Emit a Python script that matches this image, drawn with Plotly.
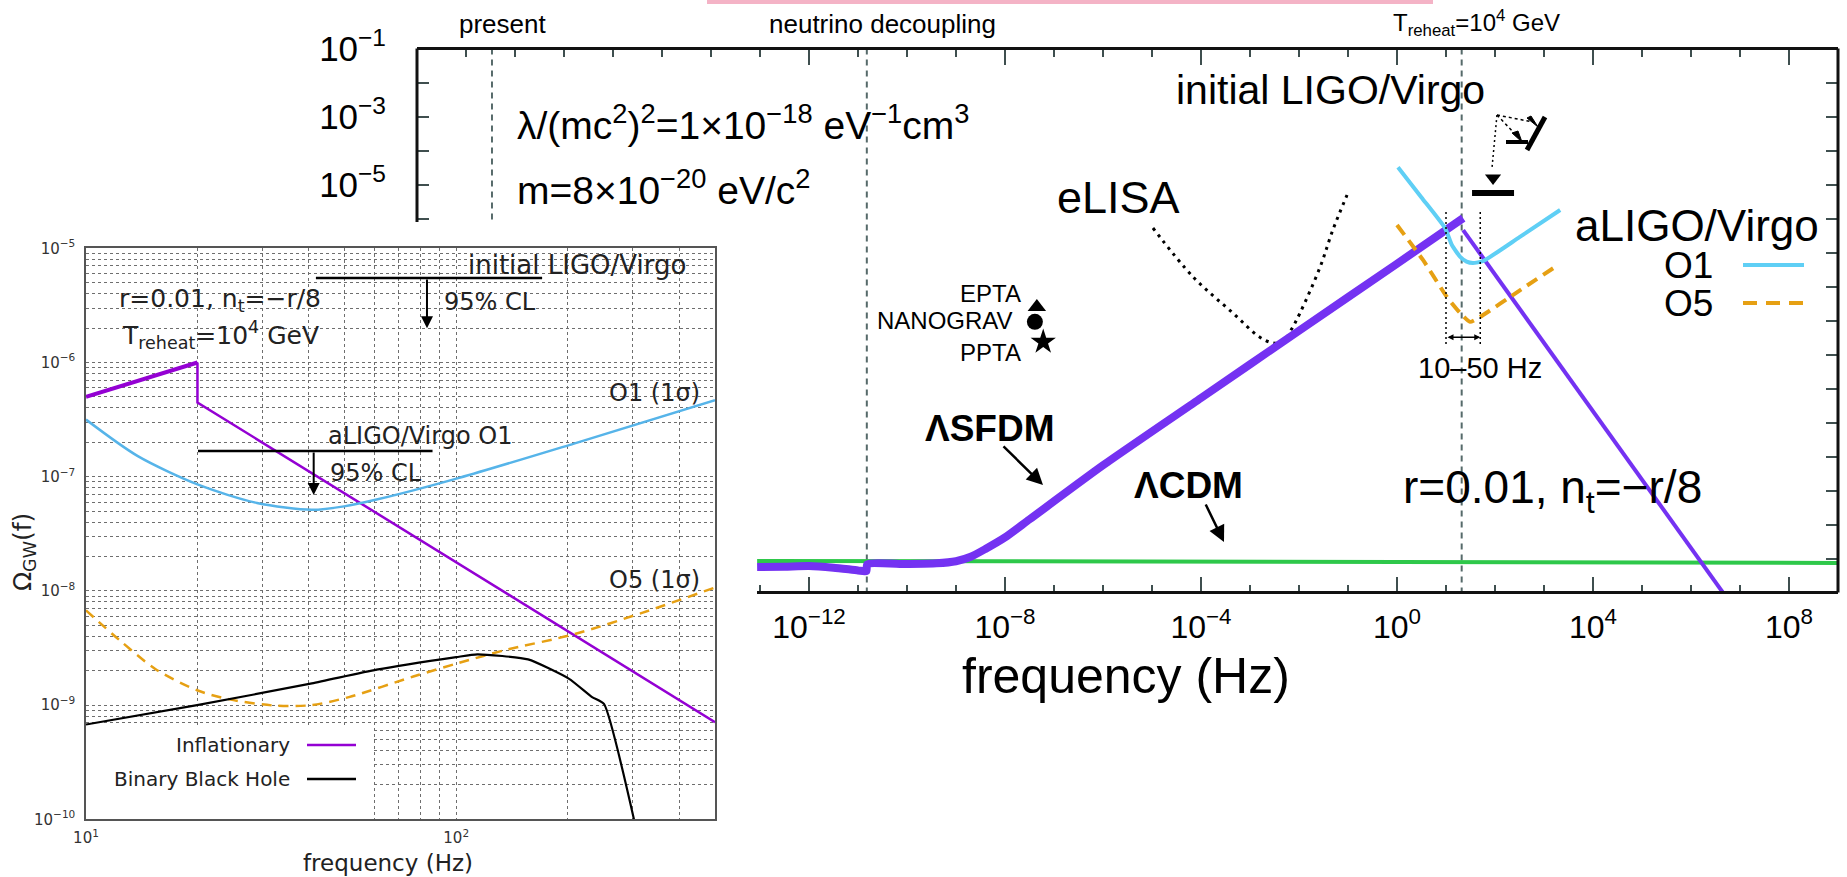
import numpy as np
import plotly.graph_objects as go

W, H = 1847, 877

# ---------------- main panel (values are log10 of f [Hz] and of Omega_GW) ----------------
lcdm_logf = [-13.06, -4.0, 9.0]
lcdm_logomega = [-16.07, -16.10, -16.13]

sfdm_logf = [-13.06, -12.5, -12.0, -11.5, -11.0, -10.83, -10.81, -10.0, -9.4, -9.0,
             -8.7, -8.4, -8.0, -7.5, -6.0, -4.0, -2.0, 0.0, 1.35]
sfdm_logomega = [-16.25, -16.24, -16.22, -16.27, -16.35, -16.37, -16.17, -16.16, -16.14, -16.08,
                 -15.95, -15.72, -15.38, -14.85, -13.26, -11.28, -9.30, -7.33, -5.99]

sfdm_tail_logf = [1.35, 6.75]
sfdm_tail_logomega = [-6.34, -17.2]

elisa_logf = [-4.98, -4.16, -3.35, -2.80, -2.53, -2.33, -2.15, -1.98, -1.57, -1.31, -1.02]
elisa_logomega = [-6.28, -7.72, -8.78, -9.49, -9.66, -9.63, -9.25, -8.78, -7.43, -6.34, -5.31]

o1_logf = [0.02, 0.5, 0.98, 1.12, 1.29, 1.42, 1.55, 1.76, 2.5, 3.33]
o1_logomega = [-4.49, -5.38, -6.28, -6.78, -7.13, -7.27, -7.31, -7.25, -6.55, -5.75]

o5_logf = [0.0, 0.53, 1.02, 1.29, 1.49, 1.69, 2.5, 3.22]
o5_logomega = [-6.19, -7.22, -8.31, -8.78, -9.04, -8.90, -8.12, -7.43]

pta_names = ["EPTA", "NANOGRAV", "PPTA"]
pta_logf = [-7.35, -7.39, -7.22]
pta_logomega = [-8.60, -9.04, -9.63]
pta_symbols = ["triangle-up", "circle", "star"]

event_labels = ["present", "neutrino decoupling", "T<sub>reheat</sub>=10<sup>4</sup> GeV"]
event_logf = [-18.47, -10.82, 1.32]

band_logf = [1.0, 1.699]            # 10-50 Hz
band_logomega = [-5.81, -9.78]
band_arrow_logomega = -9.49

ligo_limit_logf = 1.96
ligo_limit_logomega = -5.25
ligo_head_logomega = -4.81
ligo_leader_logf = [2.04, 1.94]
ligo_leader_logomega = [-2.96, -4.49]

main_xtick_exp = [-12, -8, -4, 0, 4, 8]
main_ytick_exp = [-1, -3, -5]

# ---------------- inset (values are log10 of f [Hz] and of Omega_GW) ----------------
infl_rise_logf = [1.0, 1.30103]
infl_rise_logomega = [-6.30, -6.0]
infl_fall_logf = [1.30103, 1.30103, 2.69897]
infl_fall_logomega = [-6.0, -6.35, -9.15]

in_o1_logf = [1.0, 1.14, 1.303, 1.462, 1.61, 1.697, 1.785, 2.008, 2.318, 2.699]
in_o1_logomega = [-6.50, -6.82, -7.07, -7.23, -7.29, -7.26, -7.20, -7.01, -6.71, -6.33]

in_o5_logf = [1.0, 1.09, 1.19, 1.30, 1.388, 1.512, 1.61, 1.71, 1.884, 2.008, 2.13, 2.318, 2.504, 2.699]
in_o5_logomega = [-8.17, -8.43, -8.69, -8.87, -8.95, -9.005, -9.0, -8.93, -8.75, -8.63, -8.52, -8.38, -8.19, -7.97]

bbh_logf = [1.0, 1.30, 1.61, 1.785, 2.0, 2.057, 2.194, 2.305, 2.367, 2.399, 2.487]
bbh_logomega = [-9.17, -9.0, -8.81, -8.69, -8.58, -8.555, -8.60, -8.77, -8.93, -8.99, -10.1]

ilv_limit_logf = [1.621, 2.232]
ilv_limit_logomega = -5.26
ilv_arrow_logf = 1.921
ilv_arrow_tip = -5.70

o1_limit_logf = [1.3025, 1.936]
o1_limit_logomega = -6.775
o1_arrow_logf = 1.615
o1_arrow_tip = -7.16

inset_xtick_exp = [1, 2]
inset_ytick_exp = [-10, -9, -8, -7, -6, -5]

# key box of the inset (log10 corners)
key_box_logf = [1.0, 1.773]
key_box_logomega = [-10.0, -9.19]


def lin(v):
    return [10.0 ** x for x in v]


def px(x):
    return x / W


def py(y):
    return 1 - y / H


SANS = "Liberation Sans, Arial, sans-serif"
DJV = "DejaVu Sans, Verdana, sans-serif"
PURPLE = "#7432f2"
CYAN = "#5fcff5"
ORANGE = "#e6a013"
GREEN = "#2ec84a"
SLATE = "#566a6a"
GRID = "#6e6e6e"

fig = go.Figure()

# event markers (vertical dashed lines)
for f in event_logf:
    fig.add_trace(go.Scatter(x=lin([f, f]), y=[1e-1, 1e-17], mode="lines",
                             line=dict(color=SLATE, width=2, dash="6px,5px"),
                             xaxis="x", yaxis="y", hoverinfo="skip"))

fig.add_trace(go.Scatter(x=lin(lcdm_logf), y=lin(lcdm_logomega), mode="lines",
                         line=dict(color=GREEN, width=4), xaxis="x", yaxis="y"))
fig.add_trace(go.Scatter(x=lin(elisa_logf), y=lin(elisa_logomega), mode="lines",
                         line=dict(color="black", width=3, dash="3px,5px", shape="spline"),
                         xaxis="x", yaxis="y"))
fig.add_trace(go.Scatter(x=lin(sfdm_logf), y=lin(sfdm_logomega), mode="lines",
                         line=dict(color=PURPLE, width=8, shape="spline", smoothing=0.6),
                         xaxis="x", yaxis="y"))
fig.add_trace(go.Scatter(x=lin(sfdm_tail_logf), y=lin(sfdm_tail_logomega), mode="lines",
                         line=dict(color=PURPLE, width=4), xaxis="x", yaxis="y"))
fig.add_trace(go.Scatter(x=lin(o1_logf), y=lin(o1_logomega), mode="lines",
                         line=dict(color=CYAN, width=4, shape="spline", smoothing=0.5),
                         xaxis="x", yaxis="y"))
fig.add_trace(go.Scatter(x=lin(o5_logf), y=lin(o5_logomega), mode="lines",
                         line=dict(color=ORANGE, width=4, dash="12px,7px", shape="spline", smoothing=0.5),
                         xaxis="x", yaxis="y"))
for f in band_logf:
    fig.add_trace(go.Scatter(x=lin([f, f]), y=lin(band_logomega), mode="lines",
                             line=dict(color="black", width=1.5, dash="2px,3px"),
                             xaxis="x", yaxis="y"))
for f, w, s in zip(pta_logf, pta_logomega, pta_symbols):
    fig.add_trace(go.Scatter(x=lin([f]), y=lin([w]), mode="markers",
                             marker=dict(symbol=s, size=16 if s != "star" else 19, color="black"),
                             xaxis="x", yaxis="y"))
# initial LIGO/Virgo upper limit
fig.add_trace(go.Scatter(x=lin(ligo_leader_logf), y=lin(ligo_leader_logomega), mode="lines",
                         line=dict(color="black", width=1.5, dash="2px,3px"), xaxis="x", yaxis="y"))
fig.add_trace(go.Scatter(x=lin([ligo_limit_logf]), y=lin([ligo_limit_logomega]), mode="markers",
                         marker=dict(symbol="line-ew-open", size=30, color="black",
                                     line=dict(color="black", width=6)),
                         xaxis="x", yaxis="y"))
fig.add_trace(go.Scatter(x=lin([ligo_limit_logf]), y=lin([ligo_head_logomega]), mode="markers",
                         marker=dict(symbol="triangle-down", size=14, color="black"),
                         xaxis="x", yaxis="y"))
# white panel under the inset
fig.add_trace(go.Scatter(x=[1e-21, 10 ** -13.06, 10 ** -13.06, 1e-21],
                         y=[1e-18, 1e-18, 10 ** -6.1, 10 ** -6.1],
                         fill="toself", fillcolor="white", mode="lines", line=dict(width=0),
                         xaxis="x", yaxis="y", hoverinfo="skip"))

# ---------------- inset traces ----------------
kx = lin(key_box_logf)
ky = lin(key_box_logomega)
fig.add_trace(go.Scatter(x=[kx[0], kx[1], kx[1], kx[0]], y=[ky[0], ky[0], ky[1], ky[1]],
                         fill="toself", fillcolor="white", mode="lines", line=dict(width=0),
                         xaxis="x2", yaxis="y2", hoverinfo="skip"))
fig.add_trace(go.Scatter(x=lin(infl_rise_logf), y=lin(infl_rise_logomega), mode="lines",
                         line=dict(color="#9400d3", width=4), xaxis="x2", yaxis="y2"))
fig.add_trace(go.Scatter(x=lin(infl_fall_logf), y=lin(infl_fall_logomega), mode="lines",
                         line=dict(color="#9400d3", width=2.5), xaxis="x2", yaxis="y2"))
fig.add_trace(go.Scatter(x=lin(in_o1_logf), y=lin(in_o1_logomega), mode="lines",
                         line=dict(color="#56b4e9", width=2.5, shape="spline", smoothing=0.8),
                         xaxis="x2", yaxis="y2"))
fig.add_trace(go.Scatter(x=lin(in_o5_logf), y=lin(in_o5_logomega), mode="lines",
                         line=dict(color=ORANGE, width=2.5, dash="10px,7px", shape="spline", smoothing=0.8),
                         xaxis="x2", yaxis="y2"))
fig.add_trace(go.Scatter(x=lin(bbh_logf), y=lin(bbh_logomega), mode="lines",
                         line=dict(color="black", width=2.2, shape="spline", smoothing=0.5),
                         xaxis="x2", yaxis="y2"))
fig.add_trace(go.Scatter(x=lin(ilv_limit_logf), y=lin([ilv_limit_logomega] * 2), mode="lines",
                         line=dict(color="black", width=2.5), xaxis="x2", yaxis="y2"))
fig.add_trace(go.Scatter(x=lin(o1_limit_logf), y=lin([o1_limit_logomega] * 2), mode="lines",
                         line=dict(color="black", width=2.5), xaxis="x2", yaxis="y2"))


def sup(e):
    return "10<sup>" + ("−" if e < 0 else "") + str(abs(e)) + "</sup>"


fig.update_layout(
    width=W, height=H, template="none",
    margin=dict(l=0, r=0, t=0, b=0),
    paper_bgcolor="white", plot_bgcolor="white", showlegend=False,
    xaxis=dict(type="log", range=[-20, 9], domain=[px(417), px(1838)], anchor="y",
               showline=False, showgrid=False, zeroline=False, layer="below traces",
               ticks="inside", ticklen=16, tickwidth=2, tickcolor="#3f4f4f", mirror="ticks",
               tickmode="array", tickvals=lin([-20, -16] + main_xtick_exp),
               ticktext=["", ""] + [sup(e) for e in main_xtick_exp],
               ticklabelstandoff=12,
               tickfont=dict(family=SANS, size=32, color="black"),
               minor=dict(ticks="inside", ticklen=8, tickwidth=2, tickcolor="#3f4f4f",
                          tickmode="array", tickvals=lin(list(range(-20, 10))))),
    yaxis=dict(type="log", range=[-17, -1], domain=[py(592.5), py(48.5)], anchor="x",
               showline=False, showgrid=False, zeroline=False, layer="below traces",
               ticks="inside", ticklen=12, tickwidth=2, tickcolor="#3f4f4f", mirror="ticks",
               tickmode="array", tickvals=lin(main_ytick_exp),
               ticktext=[sup(e) for e in main_ytick_exp], ticklabelstandoff=30,
               tickfont=dict(family=SANS, size=35, color="black"),
               minor=dict(ticks="inside", ticklen=12, tickwidth=2, tickcolor="#3f4f4f",
                          tickmode="array", tickvals=lin(list(range(-17, 0))))),
    xaxis2=dict(type="log", range=[1, 2.69897], domain=[px(86), px(715)], anchor="y2",
                showline=True, mirror=True, linecolor="#555555", linewidth=1.5, zeroline=False,
                showgrid=True, gridcolor=GRID, griddash="dot", gridwidth=1, ticks="",
                tickmode="array", tickvals=lin(inset_xtick_exp),
                ticktext=[sup(e) for e in inset_xtick_exp], ticklabelstandoff=4,
                tickfont=dict(family=DJV, size=15, color="#333333"),
                minor=dict(tickmode="array", showgrid=True, gridcolor=GRID, griddash="dot",
                           gridwidth=1, ticks="",
                           tickvals=[20, 30, 40, 50, 60, 70, 80, 90, 200, 300, 400])),
    yaxis2=dict(type="log", range=[-10, -5], domain=[py(819.3), py(248.3)], anchor="x2",
                showline=True, mirror=True, linecolor="#555555", linewidth=1.5, zeroline=False,
                showgrid=True, gridcolor=GRID, griddash="dot", gridwidth=1, ticks="",
                tickmode="array", tickvals=lin(inset_ytick_exp),
                ticktext=[sup(e) for e in inset_ytick_exp], ticklabelstandoff=6,
                tickfont=dict(family=DJV, size=15, color="#333333"),
                minor=dict(tickmode="array", showgrid=True, gridcolor=GRID, griddash="dot",
                           gridwidth=1, ticks="",
                           tickvals=[m * 10.0 ** e for e in range(-10, -5) for m in range(2, 10)])),
)

shapes = []
# main frame (partly hidden behind the inset)
for (x0, y0, x1, y1) in [(417, 48.5, 1838, 48.5), (1838, 48.5, 1838, 592.5),
                         (757, 592.5, 1838, 592.5), (417, 48.5, 417, 222)]:
    shapes.append(dict(type="line", xref="paper", yref="paper", x0=px(x0), y0=py(y0), x1=px(x1), y1=py(y1),
                       line=dict(color="#111111", width=3), layer="above"))
# pink strip at the top
shapes.append(dict(type="rect", xref="paper", yref="paper", x0=px(707), x1=px(1433), y0=py(4), y1=py(0),
                   fillcolor="#f4b3c6", line=dict(width=0), layer="above"))
# aLIGO/Virgo key samples
shapes.append(dict(type="line", xref="paper", yref="paper", x0=px(1743), x1=px(1804), y0=py(265), y1=py(265),
                   line=dict(color=CYAN, width=4), layer="above"))
shapes.append(dict(type="line", xref="paper", yref="paper", x0=px(1743), x1=px(1804), y0=py(303), y1=py(303),
                   line=dict(color=ORANGE, width=4, dash="14px,9px"), layer="above"))
# tilted limit glyph next to the initial LIGO/Virgo label
for (x0, y0, x1, y1, w, d) in [(1497, 115, 1533, 122, 1.5, "dot"), (1497, 115, 1517, 136, 1.5, "dot"),
                               (1527, 150, 1545, 117, 5, "solid"), (1506, 142, 1528, 142, 4, "solid")]:
    shapes.append(dict(type="line", xref="paper", yref="paper", x0=px(x0), y0=py(y0), x1=px(x1), y1=py(y1),
                       line=dict(color="black", width=w, dash=d), layer="above"))
shapes.append(dict(type="path", xref="paper", yref="paper",
                   path="M {} {} L {} {} L {} {} Z".format(px(1527), py(118), px(1538), py(127), px(1531), py(116)),
                   fillcolor="black", line=dict(color="black", width=1), layer="above"))
shapes.append(dict(type="path", xref="paper", yref="paper",
                   path="M {} {} L {} {} L {} {} Z".format(px(1512), py(133), px(1522), py(142), px(1518), py(131)),
                   fillcolor="black", line=dict(color="black", width=1), layer="above"))
# inset key samples
shapes.append(dict(type="line", xref="paper", yref="paper", x0=px(307), x1=px(356), y0=py(745), y1=py(745),
                   line=dict(color="#9400d3", width=2.5), layer="above"))
shapes.append(dict(type="line", xref="paper", yref="paper", x0=px(307), x1=px(356), y0=py(779), y1=py(779),
                   line=dict(color="black", width=2.5), layer="above"))
fig.update_layout(shapes=shapes)

ann = []


def text(x, y, s, size, family=SANS, xanchor="center", color="black", **kw):
    ann.append(dict(x=px(x), y=py(y), xref="paper", yref="paper", text=s, showarrow=False,
                    xanchor=xanchor, yanchor="middle", font=dict(family=family, size=size, color=color), **kw))


# main panel labels
text(502, 24, event_labels[0], 26)
text(882, 24, event_labels[1], 26)
text(1476, 23, event_labels[2], 24)
text(515, 122, "λ/(mc<sup>2</sup>)<sup>2</sup>=1×10<sup>−18</sup> eV<sup>−1</sup>cm<sup>3</sup>", 39, xanchor="left")
text(515, 187, "m=8×10<sup>−20</sup> eV/c<sup>2</sup>", 39, xanchor="left")
text(1330, 90, "initial LIGO/Virgo", 41)
text(1118, 197, "eLISA", 45)
text(1023, 293, pta_names[0], 24, xanchor="right")
text(1015, 320, pta_names[1], 24, xanchor="right")
text(1023, 352, pta_names[2], 24, xanchor="right")
text(990, 428, "<b>ΛSFDM</b>", 37)
text(1188, 485, "<b>ΛCDM</b>", 37)
text(1552, 490, "r=0.01, n<sub>t</sub>=−r/8", 46)
text(1697, 225, "aLIGO/Virgo", 44)
text(1715, 265, "O1", 37, xanchor="right")
text(1715, 303, "O5", 37, xanchor="right")
text(1480, 368, "10–50 Hz", 29)
text(1126, 676, "frequency (Hz)", 50)

# arrows in the main panel
for (x0, y0, x1, y1) in [(1002, 445, 1043, 485), (1205, 503, 1224, 542)]:
    ann.append(dict(x=px(x1), y=py(y1), xref="paper", yref="paper", ax=x0 - x1, ay=y0 - y1,
                    text="", showarrow=True, arrowhead=2, arrowsize=1.3, arrowwidth=2.5, arrowcolor="black"))
ann.append(dict(x=band_logf[1], y=band_arrow_logomega, xref="x", yref="y", ax=band_logf[0],
                ay=band_arrow_logomega, axref="x", ayref="y", text="", showarrow=True,
                arrowhead=2, startarrowhead=2, arrowside="end+start", arrowsize=0.8,
                arrowwidth=1.5, arrowcolor="black"))

# inset labels
INK = "#222222"
text(466, 265, "initial LIGO/Virgo", 26, family=DJV, xanchor="left", color=INK)
text(442, 302, "95% CL", 24, family=DJV, xanchor="left", color=INK)
text(117, 300, "r=0.01, n<sub>t</sub>=−r/8", 25, family=DJV, xanchor="left", color=INK)
text(120, 335, "T<sub>reheat</sub>=10<sup>4</sup> GeV", 25, family=DJV, xanchor="left", color=INK)
text(326, 436, "aLIGO/Virgo O1", 24, family=DJV, xanchor="left", color=INK)
text(328, 473, "95% CL", 24, family=DJV, xanchor="left", color=INK)
text(702, 393, "O1 (1σ)", 24, family=DJV, xanchor="right", color=INK)
text(702, 580, "O5 (1σ)", 24, family=DJV, xanchor="right", color=INK)
text(292, 745, "Inflationary", 20, family=DJV, xanchor="right", color=INK)
text(292, 779, "Binary Black Hole", 20, family=DJV, xanchor="right", color=INK)
text(388, 863, "frequency (Hz)", 23, family=DJV, color=INK)
text(24, 552, "Ω<sub>GW</sub>(f)", 25, family=DJV, color=INK, textangle=-90)

for (fx, tip, base) in [(ilv_arrow_logf, ilv_arrow_tip, ilv_limit_logomega),
                        (o1_arrow_logf, o1_arrow_tip, o1_limit_logomega)]:
    ann.append(dict(x=fx, y=tip, xref="x2", yref="y2", ax=fx, ay=base, axref="x2", ayref="y2",
                    text="", showarrow=True, arrowhead=2, arrowsize=1.2, arrowwidth=2, arrowcolor="black"))

fig.update_layout(annotations=ann)

fig.write_html("out.html")
